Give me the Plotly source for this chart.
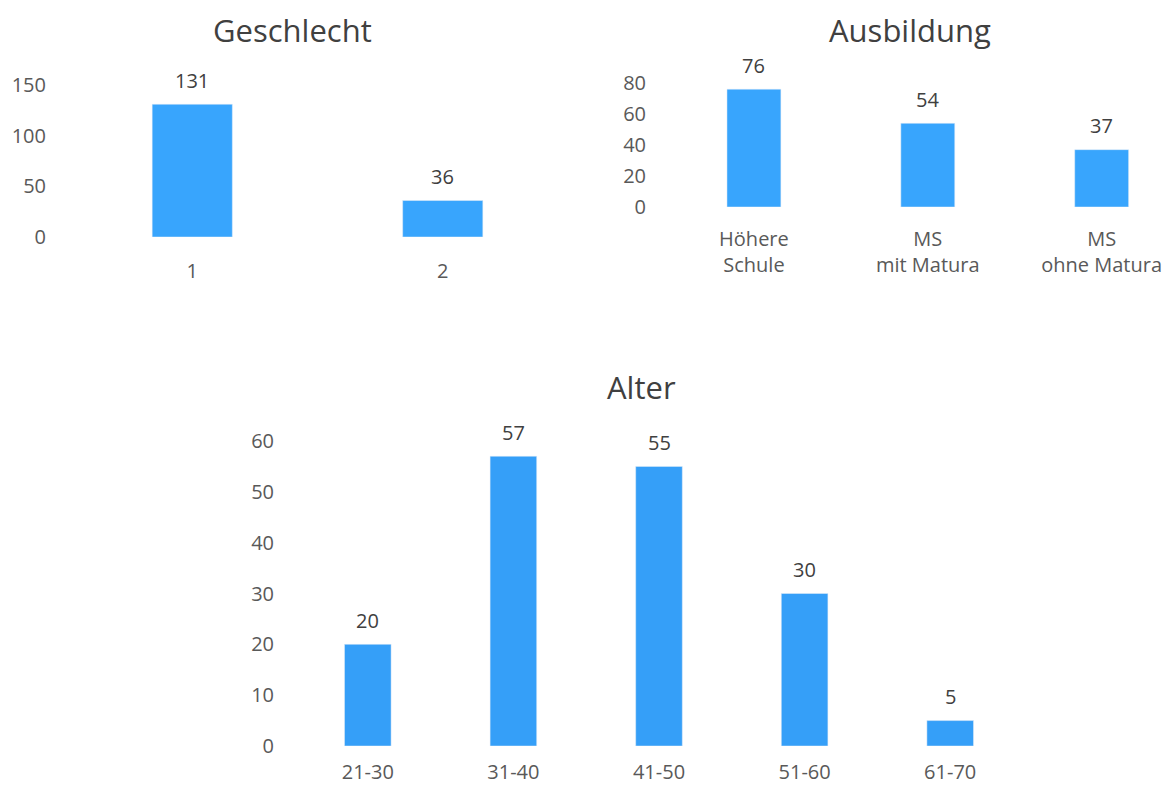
import plotly.graph_objects as go

# Data
sex_cats = ["1", "2"]
sex_vals = [131, 36]
edu_cats = ["Höhere<br>Schule", "MS<br>mit Matura", "MS<br>ohne Matura"]
edu_vals = [76, 54, 37]
age_cats = ["21-30", "31-40", "41-50", "51-60", "61-70"]
age_vals = [20, 57, 55, 30, 5]

W, H = 1166, 786
FONT = "Open Sans"
BAR = "#38A5FD"
BAR_AGE = "#359FF8"
TITLE_C = "#404040"
TICK_C = "#595959"
LABEL_C = "#404040"

def py(px):
    return (H - px) / H

def pxx(px):
    return px / W

fig = go.Figure()

fig.add_trace(go.Bar(x=sex_cats, y=sex_vals, marker_color=BAR, width=0.32,
                     xaxis="x", yaxis="y", showlegend=False, hoverinfo="x+y"))
fig.add_trace(go.Bar(x=edu_cats, y=edu_vals, marker_color=BAR, width=0.31,
                     xaxis="x2", yaxis="y2", showlegend=False, hoverinfo="x+y"))
fig.add_trace(go.Bar(x=age_cats, y=age_vals, marker_color=BAR_AGE, width=0.32,
                     xaxis="x3", yaxis="y3", showlegend=False, hoverinfo="x+y"))

annotations = []
for xa, ya, cats, vals in [("x", "y", sex_cats, sex_vals),
                           ("x2", "y2", edu_cats, edu_vals),
                           ("x3", "y3", age_cats, age_vals)]:
    for i, v in enumerate(vals):
        annotations.append(dict(x=i, y=v, xref=xa, yref=ya, text=str(v),
                                showarrow=False, yanchor="middle", yshift=24,
                                font=dict(family=FONT, size=20, color=LABEL_C)))

titles = [("Geschlecht", 292, 30), ("Ausbildung", 910, 30), ("Alter", 641, 387)]
for t, x, y in titles:
    annotations.append(dict(x=pxx(x), y=py(y), xref="paper", yref="paper", text=t,
                            showarrow=False, xanchor="center", yanchor="middle",
                            font=dict(family=FONT, size=31, color=TITLE_C)))

axis_common = dict(showgrid=False, zeroline=False, showline=False, ticks="",
                   automargin=False,
                   tickfont=dict(family=FONT, size=20, color=TICK_C), fixedrange=True)

fig.update_layout(
    width=W, height=H,
    autosize=False,
    margin=dict(l=0, r=0, t=0, b=0, pad=0, autoexpand=False),
    paper_bgcolor="white", plot_bgcolor="white",
    font=dict(family=FONT, color=TICK_C),
    annotations=annotations,
    xaxis=dict(domain=[pxx(67), pxx(568)], anchor="y", type="category",
               range=[-0.5, 1.5], ticklabelstandoff=20, **axis_common),
    yaxis=dict(domain=[py(237), py(85)], anchor="x", range=[0, 150],
               tickvals=[0, 50, 100, 150], ticklabelstandoff=20, **axis_common),
    xaxis2=dict(domain=[pxx(667), 1.0], anchor="y2", type="category",
                range=[-0.5, 2.37], ticklabelstandoff=18, **axis_common),
    yaxis2=dict(domain=[py(207), py(83)], anchor="x2", range=[0, 80],
                tickvals=[0, 20, 40, 60, 80], ticklabelstandoff=20, **axis_common),
    xaxis3=dict(domain=[pxx(295), pxx(1023)], anchor="y3", type="category",
                range=[-0.5, 4.5], ticklabelstandoff=12, **axis_common),
    yaxis3=dict(domain=[py(746), py(441)], anchor="x3", range=[0, 60],
                tickvals=[0, 10, 20, 30, 40, 50, 60], ticklabelstandoff=20, **axis_common),
    bargap=0.68,
)

fig.write_html("out.html")
